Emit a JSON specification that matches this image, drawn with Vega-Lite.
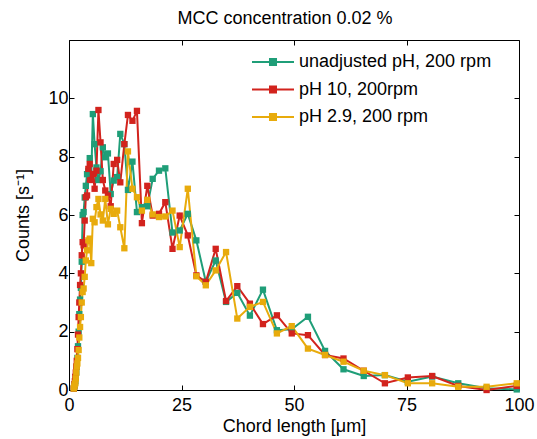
{
  "$schema": "https://vega.github.io/schema/vega-lite/v6.json",
  "width": 450,
  "height": 350,
  "autosize": "none",
  "padding": {"left": 69, "top": 40, "right": 18, "bottom": 49},
  "background": "white",
  "config": {
    "font": "Liberation Sans",
    "view": {"stroke": "black", "strokeWidth": 1},
    "axis": {"grid": false, "domainColor": "black", "tickColor": "black", "labelColor": "black", "titleColor": "black", "labelFont": "Liberation Sans", "titleFont": "Liberation Sans", "labelFontSize": 18, "titleFontSize": 18, "titleFontWeight": "normal", "tickSize": -5, "tickWidth": 1, "domainWidth": 1}
  },
  "title": {"text": "MCC concentration 0.02 %", "fontSize": 18, "fontWeight": "normal", "font": "Liberation Sans", "color": "black", "offset": 12, "anchor": "middle", "dx": -9},
  "data": {"values": [
    {"l":1.06,"c":0.05,"s":"unadjusted pH, 200 rpm"},{"l":1.14,"c":0.1,"s":"unadjusted pH, 200 rpm"},{"l":1.22,"c":0.15,"s":"unadjusted pH, 200 rpm"},{"l":1.31,"c":0.2,"s":"unadjusted pH, 200 rpm"},{"l":1.41,"c":0.3,"s":"unadjusted pH, 200 rpm"},{"l":1.51,"c":0.45,"s":"unadjusted pH, 200 rpm"},{"l":1.62,"c":0.6,"s":"unadjusted pH, 200 rpm"},{"l":1.73,"c":0.8,"s":"unadjusted pH, 200 rpm"},{"l":1.86,"c":1.1,"s":"unadjusted pH, 200 rpm"},{"l":2.0,"c":1.5,"s":"unadjusted pH, 200 rpm"},{"l":2.14,"c":2.0,"s":"unadjusted pH, 200 rpm"},{"l":2.29,"c":2.6,"s":"unadjusted pH, 200 rpm"},{"l":2.46,"c":3.1,"s":"unadjusted pH, 200 rpm"},{"l":2.64,"c":3.5,"s":"unadjusted pH, 200 rpm"},{"l":2.83,"c":4.4,"s":"unadjusted pH, 200 rpm"},{"l":3.03,"c":6.0,"s":"unadjusted pH, 200 rpm"},{"l":3.25,"c":6.1,"s":"unadjusted pH, 200 rpm"},{"l":3.49,"c":6.6,"s":"unadjusted pH, 200 rpm"},{"l":3.74,"c":7.0,"s":"unadjusted pH, 200 rpm"},{"l":4.01,"c":7.4,"s":"unadjusted pH, 200 rpm"},{"l":4.3,"c":7.5,"s":"unadjusted pH, 200 rpm"},{"l":4.61,"c":7.95,"s":"unadjusted pH, 200 rpm"},{"l":4.95,"c":7.3,"s":"unadjusted pH, 200 rpm"},{"l":5.3,"c":9.46,"s":"unadjusted pH, 200 rpm"},{"l":5.69,"c":8.43,"s":"unadjusted pH, 200 rpm"},{"l":6.1,"c":7.63,"s":"unadjusted pH, 200 rpm"},{"l":6.54,"c":7.2,"s":"unadjusted pH, 200 rpm"},{"l":7.01,"c":7.5,"s":"unadjusted pH, 200 rpm"},{"l":7.52,"c":8.32,"s":"unadjusted pH, 200 rpm"},{"l":8.06,"c":7.98,"s":"unadjusted pH, 200 rpm"},{"l":8.65,"c":8.11,"s":"unadjusted pH, 200 rpm"},{"l":9.27,"c":6.72,"s":"unadjusted pH, 200 rpm"},{"l":9.94,"c":7.18,"s":"unadjusted pH, 200 rpm"},{"l":10.7,"c":7.3,"s":"unadjusted pH, 200 rpm"},{"l":11.4,"c":8.78,"s":"unadjusted pH, 200 rpm"},{"l":12.3,"c":8.43,"s":"unadjusted pH, 200 rpm"},{"l":13.1,"c":6.86,"s":"unadjusted pH, 200 rpm"},{"l":14.1,"c":7.83,"s":"unadjusted pH, 200 rpm"},{"l":15.1,"c":6.1,"s":"unadjusted pH, 200 rpm"},{"l":16.2,"c":6.27,"s":"unadjusted pH, 200 rpm"},{"l":17.4,"c":6.3,"s":"unadjusted pH, 200 rpm"},{"l":18.6,"c":7.24,"s":"unadjusted pH, 200 rpm"},{"l":20.0,"c":7.52,"s":"unadjusted pH, 200 rpm"},{"l":21.4,"c":7.6,"s":"unadjusted pH, 200 rpm"},{"l":23.0,"c":5.4,"s":"unadjusted pH, 200 rpm"},{"l":24.6,"c":5.47,"s":"unadjusted pH, 200 rpm"},{"l":26.4,"c":6.04,"s":"unadjusted pH, 200 rpm"},{"l":28.3,"c":5.13,"s":"unadjusted pH, 200 rpm"},{"l":30.4,"c":3.71,"s":"unadjusted pH, 200 rpm"},{"l":32.6,"c":4.44,"s":"unadjusted pH, 200 rpm"},{"l":34.9,"c":3.02,"s":"unadjusted pH, 200 rpm"},{"l":37.4,"c":3.33,"s":"unadjusted pH, 200 rpm"},{"l":40.2,"c":2.55,"s":"unadjusted pH, 200 rpm"},{"l":43.1,"c":3.44,"s":"unadjusted pH, 200 rpm"},{"l":46.2,"c":2.05,"s":"unadjusted pH, 200 rpm"},{"l":49.5,"c":2.08,"s":"unadjusted pH, 200 rpm"},{"l":53.1,"c":2.51,"s":"unadjusted pH, 200 rpm"},{"l":56.9,"c":1.34,"s":"unadjusted pH, 200 rpm"},{"l":61.0,"c":0.71,"s":"unadjusted pH, 200 rpm"},{"l":65.5,"c":0.48,"s":"unadjusted pH, 200 rpm"},{"l":70.2,"c":0.51,"s":"unadjusted pH, 200 rpm"},{"l":75.3,"c":0.28,"s":"unadjusted pH, 200 rpm"},{"l":80.7,"c":0.46,"s":"unadjusted pH, 200 rpm"},{"l":86.5,"c":0.23,"s":"unadjusted pH, 200 rpm"},{"l":92.8,"c":0.06,"s":"unadjusted pH, 200 rpm"},{"l":99.5,"c":0.02,"s":"unadjusted pH, 200 rpm"},
    {"l":1.06,"c":0.05,"s":"pH 10, 200rpm"},{"l":1.14,"c":0.1,"s":"pH 10, 200rpm"},{"l":1.22,"c":0.2,"s":"pH 10, 200rpm"},{"l":1.31,"c":0.3,"s":"pH 10, 200rpm"},{"l":1.41,"c":0.45,"s":"pH 10, 200rpm"},{"l":1.51,"c":0.6,"s":"pH 10, 200rpm"},{"l":1.62,"c":0.8,"s":"pH 10, 200rpm"},{"l":1.73,"c":1.0,"s":"pH 10, 200rpm"},{"l":1.86,"c":1.4,"s":"pH 10, 200rpm"},{"l":2.0,"c":1.9,"s":"pH 10, 200rpm"},{"l":2.14,"c":2.5,"s":"pH 10, 200rpm"},{"l":2.29,"c":3.0,"s":"pH 10, 200rpm"},{"l":2.46,"c":3.6,"s":"pH 10, 200rpm"},{"l":2.64,"c":4.0,"s":"pH 10, 200rpm"},{"l":2.83,"c":4.62,"s":"pH 10, 200rpm"},{"l":3.03,"c":5.07,"s":"pH 10, 200rpm"},{"l":3.25,"c":4.96,"s":"pH 10, 200rpm"},{"l":3.49,"c":5.81,"s":"pH 10, 200rpm"},{"l":3.74,"c":6.61,"s":"pH 10, 200rpm"},{"l":4.01,"c":6.67,"s":"pH 10, 200rpm"},{"l":4.3,"c":7.58,"s":"pH 10, 200rpm"},{"l":4.61,"c":7.75,"s":"pH 10, 200rpm"},{"l":4.95,"c":7.2,"s":"pH 10, 200rpm"},{"l":5.3,"c":7.41,"s":"pH 10, 200rpm"},{"l":5.69,"c":6.9,"s":"pH 10, 200rpm"},{"l":6.1,"c":7.52,"s":"pH 10, 200rpm"},{"l":6.54,"c":9.6,"s":"pH 10, 200rpm"},{"l":7.01,"c":8.49,"s":"pH 10, 200rpm"},{"l":7.52,"c":7.2,"s":"pH 10, 200rpm"},{"l":8.06,"c":6.84,"s":"pH 10, 200rpm"},{"l":8.65,"c":6.67,"s":"pH 10, 200rpm"},{"l":9.27,"c":6.3,"s":"pH 10, 200rpm"},{"l":9.94,"c":7.75,"s":"pH 10, 200rpm"},{"l":10.7,"c":7.89,"s":"pH 10, 200rpm"},{"l":11.4,"c":7.12,"s":"pH 10, 200rpm"},{"l":12.3,"c":8.43,"s":"pH 10, 200rpm"},{"l":13.1,"c":9.43,"s":"pH 10, 200rpm"},{"l":14.1,"c":9.23,"s":"pH 10, 200rpm"},{"l":15.1,"c":9.57,"s":"pH 10, 200rpm"},{"l":16.2,"c":5.72,"s":"pH 10, 200rpm"},{"l":17.4,"c":7.0,"s":"pH 10, 200rpm"},{"l":18.6,"c":5.98,"s":"pH 10, 200rpm"},{"l":20.0,"c":6.04,"s":"pH 10, 200rpm"},{"l":21.4,"c":6.44,"s":"pH 10, 200rpm"},{"l":23.0,"c":4.84,"s":"pH 10, 200rpm"},{"l":24.6,"c":5.98,"s":"pH 10, 200rpm"},{"l":26.4,"c":5.3,"s":"pH 10, 200rpm"},{"l":28.3,"c":3.93,"s":"pH 10, 200rpm"},{"l":30.4,"c":3.71,"s":"pH 10, 200rpm"},{"l":32.6,"c":4.84,"s":"pH 10, 200rpm"},{"l":34.9,"c":3.05,"s":"pH 10, 200rpm"},{"l":37.4,"c":3.56,"s":"pH 10, 200rpm"},{"l":40.2,"c":2.96,"s":"pH 10, 200rpm"},{"l":43.1,"c":2.26,"s":"pH 10, 200rpm"},{"l":46.2,"c":2.56,"s":"pH 10, 200rpm"},{"l":49.5,"c":1.94,"s":"pH 10, 200rpm"},{"l":53.1,"c":1.88,"s":"pH 10, 200rpm"},{"l":56.9,"c":1.2,"s":"pH 10, 200rpm"},{"l":61.0,"c":1.08,"s":"pH 10, 200rpm"},{"l":65.5,"c":0.66,"s":"pH 10, 200rpm"},{"l":70.2,"c":0.23,"s":"pH 10, 200rpm"},{"l":75.3,"c":0.43,"s":"pH 10, 200rpm"},{"l":80.7,"c":0.48,"s":"pH 10, 200rpm"},{"l":86.5,"c":0.14,"s":"pH 10, 200rpm"},{"l":92.8,"c":0.0,"s":"pH 10, 200rpm"},{"l":99.5,"c":0.14,"s":"pH 10, 200rpm"},
    {"l":1.06,"c":0.05,"s":"pH 2.9, 200 rpm"},{"l":1.14,"c":0.1,"s":"pH 2.9, 200 rpm"},{"l":1.22,"c":0.15,"s":"pH 2.9, 200 rpm"},{"l":1.31,"c":0.2,"s":"pH 2.9, 200 rpm"},{"l":1.41,"c":0.24,"s":"pH 2.9, 200 rpm"},{"l":1.51,"c":0.4,"s":"pH 2.9, 200 rpm"},{"l":1.62,"c":0.6,"s":"pH 2.9, 200 rpm"},{"l":1.73,"c":0.8,"s":"pH 2.9, 200 rpm"},{"l":1.86,"c":0.91,"s":"pH 2.9, 200 rpm"},{"l":2.0,"c":1.1,"s":"pH 2.9, 200 rpm"},{"l":2.14,"c":1.37,"s":"pH 2.9, 200 rpm"},{"l":2.29,"c":1.8,"s":"pH 2.9, 200 rpm"},{"l":2.46,"c":2.16,"s":"pH 2.9, 200 rpm"},{"l":2.64,"c":2.5,"s":"pH 2.9, 200 rpm"},{"l":2.83,"c":3.0,"s":"pH 2.9, 200 rpm"},{"l":3.03,"c":3.36,"s":"pH 2.9, 200 rpm"},{"l":3.25,"c":3.48,"s":"pH 2.9, 200 rpm"},{"l":3.49,"c":3.88,"s":"pH 2.9, 200 rpm"},{"l":3.74,"c":4.44,"s":"pH 2.9, 200 rpm"},{"l":4.01,"c":4.79,"s":"pH 2.9, 200 rpm"},{"l":4.3,"c":5.13,"s":"pH 2.9, 200 rpm"},{"l":4.61,"c":5.19,"s":"pH 2.9, 200 rpm"},{"l":4.95,"c":4.35,"s":"pH 2.9, 200 rpm"},{"l":5.3,"c":5.87,"s":"pH 2.9, 200 rpm"},{"l":5.69,"c":5.75,"s":"pH 2.9, 200 rpm"},{"l":6.1,"c":6.27,"s":"pH 2.9, 200 rpm"},{"l":6.54,"c":6.55,"s":"pH 2.9, 200 rpm"},{"l":7.01,"c":6.02,"s":"pH 2.9, 200 rpm"},{"l":7.52,"c":5.81,"s":"pH 2.9, 200 rpm"},{"l":8.06,"c":6.55,"s":"pH 2.9, 200 rpm"},{"l":8.65,"c":5.68,"s":"pH 2.9, 200 rpm"},{"l":9.27,"c":6.21,"s":"pH 2.9, 200 rpm"},{"l":9.94,"c":6.04,"s":"pH 2.9, 200 rpm"},{"l":10.7,"c":6.15,"s":"pH 2.9, 200 rpm"},{"l":11.4,"c":5.58,"s":"pH 2.9, 200 rpm"},{"l":12.3,"c":4.86,"s":"pH 2.9, 200 rpm"},{"l":13.1,"c":8.18,"s":"pH 2.9, 200 rpm"},{"l":14.1,"c":6.9,"s":"pH 2.9, 200 rpm"},{"l":15.1,"c":6.61,"s":"pH 2.9, 200 rpm"},{"l":16.2,"c":6.15,"s":"pH 2.9, 200 rpm"},{"l":17.4,"c":6.52,"s":"pH 2.9, 200 rpm"},{"l":18.6,"c":6.02,"s":"pH 2.9, 200 rpm"},{"l":20.0,"c":5.93,"s":"pH 2.9, 200 rpm"},{"l":21.4,"c":5.95,"s":"pH 2.9, 200 rpm"},{"l":23.0,"c":6.15,"s":"pH 2.9, 200 rpm"},{"l":24.6,"c":4.9,"s":"pH 2.9, 200 rpm"},{"l":26.4,"c":6.9,"s":"pH 2.9, 200 rpm"},{"l":28.3,"c":3.9,"s":"pH 2.9, 200 rpm"},{"l":30.4,"c":3.59,"s":"pH 2.9, 200 rpm"},{"l":32.6,"c":4.1,"s":"pH 2.9, 200 rpm"},{"l":34.9,"c":4.73,"s":"pH 2.9, 200 rpm"},{"l":37.4,"c":2.45,"s":"pH 2.9, 200 rpm"},{"l":40.2,"c":2.85,"s":"pH 2.9, 200 rpm"},{"l":43.1,"c":3.02,"s":"pH 2.9, 200 rpm"},{"l":46.2,"c":1.94,"s":"pH 2.9, 200 rpm"},{"l":49.5,"c":2.19,"s":"pH 2.9, 200 rpm"},{"l":53.1,"c":1.42,"s":"pH 2.9, 200 rpm"},{"l":56.9,"c":1.2,"s":"pH 2.9, 200 rpm"},{"l":61.0,"c":0.97,"s":"pH 2.9, 200 rpm"},{"l":65.5,"c":0.66,"s":"pH 2.9, 200 rpm"},{"l":70.2,"c":0.51,"s":"pH 2.9, 200 rpm"},{"l":75.3,"c":0.23,"s":"pH 2.9, 200 rpm"},{"l":80.7,"c":0.23,"s":"pH 2.9, 200 rpm"},{"l":86.5,"c":0.11,"s":"pH 2.9, 200 rpm"},{"l":92.8,"c":0.11,"s":"pH 2.9, 200 rpm"},{"l":99.5,"c":0.23,"s":"pH 2.9, 200 rpm"}
  ]},
  "encoding": {
    "color": {"field": "s", "type": "nominal",
      "scale": {"domain": ["unadjusted pH, 200 rpm", "pH 10, 200rpm", "pH 2.9, 200 rpm"], "range": ["#1f9e78", "#d2231d", "#e8ab0c"]},
      "legend": {"title": null, "orient": "none", "legendX": 195, "legendY": 13, "symbolType": "M-3,0H3M-0.43,-0.43H0.43V0.43H-0.43Z", "symbolSize": 196, "symbolStrokeWidth": 2, "symbolFillColor": null, "labelFontSize": 18, "labelFont": "Liberation Sans", "labelColor": "black", "labelOffset": 17, "rowPadding": 9.5, "padding": 0, "labelLimit": 300}
    }
  },
  "layer": [
    {
      "mark": {"type": "line", "strokeWidth": 2},
      "encoding": {
        "x": {"field": "l", "type": "quantitative", "scale": {"domain": [0, 100], "nice": false}, "axis": {"values": [0, 25, 50, 75, 100], "title": "Chord length [μm]", "labelPadding": 11, "titlePadding": 3, "labelFlush": false}},
        "y": {"field": "c", "type": "quantitative", "scale": {"domain": [0, 12], "nice": false}, "axis": {"values": [0, 2, 4, 6, 8, 10], "title": "Counts [s⁻¹]", "labelPadding": 6, "titlePadding": 15, "labelFlush": false}},
        "order": {"field": "l", "type": "quantitative"}
      }
    },
    {
      "mark": {"type": "point", "shape": "square", "filled": true, "size": 40, "opacity": 1},
      "encoding": {
        "x": {"field": "l", "type": "quantitative", "axis": {"orient": "top", "values": [0, 25, 50, 75, 100], "labels": false, "title": null, "domain": false}},
        "y": {"field": "c", "type": "quantitative", "axis": {"orient": "right", "values": [0, 2, 4, 6, 8, 10], "labels": false, "title": null, "domain": false}}
      }
    }
  ],
  "resolve": {"axis": {"x": "independent", "y": "independent"}}
}
